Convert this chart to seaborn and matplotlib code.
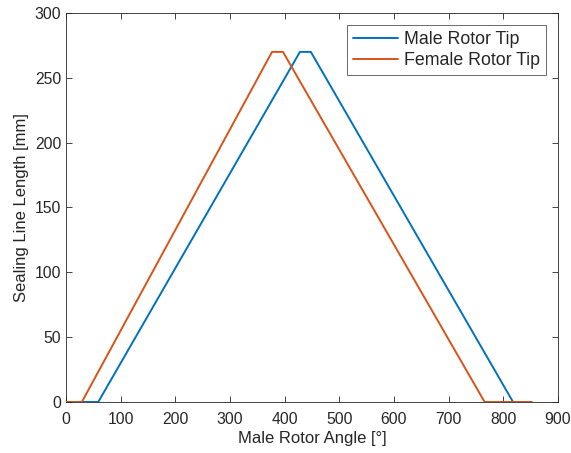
import matplotlib
matplotlib.use("Agg")
import matplotlib.pyplot as plt
import seaborn as sns
import pandas as pd

# Sealing line length profiles against male rotor angle
male_angle = [0, 59, 428, 448, 818, 852]
male_length = [0, 0, 270, 270, 0, 0]
female_angle = [0, 29, 377, 397, 766, 852]
female_length = [0, 0, 270, 270, 0, 0]
series_names = ["Male Rotor Tip", "Female Rotor Tip"]
x_ticks = [0, 100, 200, 300, 400, 500, 600, 700, 800, 900]
y_ticks = [0, 50, 100, 150, 200, 250, 300]

df = pd.concat([
    pd.DataFrame({"angle": male_angle, "length": male_length, "series": series_names[0]}),
    pd.DataFrame({"angle": female_angle, "length": female_length, "series": series_names[1]}),
])

sns.set_style("white")
plt.rcParams["font.family"] = ["Liberation Sans", "DejaVu Sans"]

fig = plt.figure(figsize=(5.71, 4.53), dpi=100)
ax = fig.add_axes([0.1156, 0.1126, 0.8614, 0.8587])

sns.lineplot(data=df, x="angle", y="length", hue="series", sort=False,
             palette=["#0072BD", "#D95319"], linewidth=1.4, ax=ax, estimator=None)
# female curve drawn over the male one
ax.lines[1].set_zorder(3)

ax.set_xlim(0, 900)
ax.set_ylim(0, 300)
ax.set_xticks(x_ticks)
ax.set_yticks(y_ticks)
ax.set_xlabel("Male Rotor Angle [°]", fontsize=12, color="#262626", labelpad=3)
ax.set_ylabel("Sealing Line Length [mm]", fontsize=12, color="#262626")
ax.tick_params(direction="in", length=4, width=0.6, colors="#262626",
               labelsize=11.3, top=True, right=True, bottom=True, left=True)
ax.tick_params(axis="x", pad=7)
for s in ax.spines.values():
    s.set_color("#262626")
    s.set_linewidth(0.6)

leg = ax.legend(loc="upper right", fontsize=12.8, frameon=True, fancybox=False,
                borderaxespad=0.65, handlelength=2.5, labelspacing=0.25,
                borderpad=0.35, handletextpad=0.35)
leg.get_frame().set_edgecolor("#262626")
leg.get_frame().set_linewidth(0.6)
leg.set_title(None)

fig.savefig("out.png", dpi=100)
